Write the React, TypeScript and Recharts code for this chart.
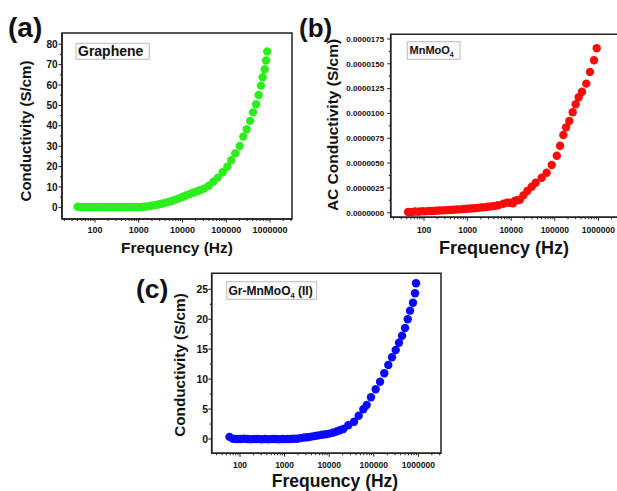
import React from 'react';
import { ScatterChart, Scatter, XAxis, YAxis, ReferenceArea } from 'recharts';

const FONT = '"Liberation Sans", Arial, Helvetica, sans-serif';

// ---------- tick labels ----------
const xMajorTicks = [100, 1000, 10000, 100000, 1000000];
const xMinorTicks = [
  20, 30, 40, 50, 60, 70, 80, 90,
  200, 300, 400, 500, 600, 700, 800, 900,
  2000, 3000, 4000, 5000, 6000, 7000, 8000, 9000,
  20000, 30000, 40000, 50000, 60000, 70000, 80000, 90000,
  200000, 300000, 400000, 500000, 600000, 700000, 800000, 900000,
  2000000, 3000000,
];
const yMajorA = [0, 10, 20, 30, 40, 50, 60, 70, 80];
const yMinorA = [5, 15, 25, 35, 45, 55, 65, 75];
const yMajorB = [0, 2.5, 5, 7.5, 10, 12.5, 15, 17.5]; // x 1e-6 S/cm
const yMinorB = [1.25, 3.75, 6.25, 8.75, 11.25, 13.75, 16.25];
const yMajorC = [0, 5, 10, 15, 20, 25];
const yMinorC = [2.5, 7.5, 12.5, 17.5, 22.5];

// ---------- (a) Graphene ----------
const freqA = [40, 48, 58, 69, 83, 100, 120, 145, 174, 209, 251, 302, 363, 437, 525, 631, 759, 912, 1100, 1320,
  1590, 1910, 2290, 2750, 3310, 3980, 4790, 5750, 6920, 8320, 10000, 12000, 14500, 17400, 20900, 25100,
  31000, 39800, 50600, 64000, 83000, 106000, 130000, 161000, 203000, 245000, 293000, 350000, 410000,
  480000, 550000, 620000, 680000, 757000, 810000, 867000];
const condA = [0.3, 0.2, 0.2, 0.2, 0.2, 0.2, 0.2, 0.2, 0.2, 0.2, 0.2, 0.2, 0.2, 0.2, 0.2, 0.2, 0.2, 0.2, 0.2, 0.3,
  0.5, 0.8, 1.1, 1.4, 1.8, 2.2, 2.7, 3.2, 3.8, 4.4, 5.1, 5.8, 6.5, 7.2, 7.8, 8.4,
  9.2, 10.6, 12.6, 14.6, 17.2, 19.9, 23.1, 26.5, 30.1, 34.7, 38.3, 42.4, 46.6,
  50.6, 55.1, 59.7, 63.8, 67.7, 72.0, 76.4];

// ---------- (b) MnMoO4 (values in 1e-6 S/cm) ----------
const freqB = [43, 52, 62, 75, 90, 108, 130, 156, 187, 225, 270, 324, 389, 467, 560, 672, 806, 968, 1160, 1390,
  1670, 2010, 2410, 2890, 3470, 4160, 5000, 6600, 8000, 9400, 11000, 12200, 14000, 15800, 19000, 23400,
  29500, 36500, 50000, 65000, 85000, 111000, 132000, 157000, 181000, 215000, 257000, 301000, 353000,
  420000, 527000, 641000, 793000, 914000];
const condB = [0.08, 0.05, 0.12, 0.1, 0.15, 0.14, 0.18, 0.18, 0.2, 0.22, 0.24, 0.26, 0.28, 0.3, 0.32, 0.34, 0.37, 0.4, 0.42, 0.45,
  0.48, 0.52, 0.56, 0.6, 0.64, 0.68, 0.75, 0.9, 1.02, 1.0, 0.95, 1.22, 1.25, 1.3, 1.75, 2.19,
  2.62, 3.02, 3.53, 4.03, 4.81, 5.74, 6.75, 7.83, 8.6, 9.24, 10.12, 10.92, 11.63,
  12.19, 13.0, 14.18, 15.36, 16.56];

// ---------- (c) Gr-MnMoO4 (II) ----------
const freqC = [58, 69, 83, 100, 120, 145, 174, 209, 251, 302, 363, 437, 525, 631, 759, 912, 1100, 1320, 1590, 1910,
  2290, 2750, 3310, 3980, 4790, 5750, 6920, 8320, 10000, 12000, 14500, 17400, 20700, 26800, 36000, 45900,
  58200, 69300, 86500, 110000, 138000, 172000, 211000, 256000, 310000, 367000, 429000, 501000, 576000,
  648000, 757000, 840000, 883000];
const condC = [0.35, 0.05, 0.0, 0.0, 0.05, 0.0, -0.05, 0.0, 0.0, -0.05, 0.0, -0.05, 0.0, 0.0, -0.05, 0.0, 0.0, 0.0, 0.05, 0.05,
  0.15, 0.25, 0.3, 0.4, 0.5, 0.6, 0.7, 0.8, 0.9, 1.05, 1.25, 1.45, 1.67, 2.29, 2.89, 3.89,
  4.96, 5.68, 6.96, 8.3, 9.57, 10.97, 12.36, 13.64, 14.86, 16.08, 17.25, 18.54, 19.99,
  21.43, 22.76, 24.33, 26.0];

const toRows = (f: number[], v: number[]) => f.map((x, i) => ({ f: x, v: v[i] }));

const makeXTick = (fontSize: number, labelDy: number) => (props: any) => {
  const { x, y, payload } = props;
  const val = payload.value;
  const major = xMajorTicks.includes(val);
  return (
    <g>
      <line x1={x} x2={x} y1={y} y2={y + (major ? 3.5 : 2)} stroke="#222" strokeWidth={1} />
      {major && (
        <text x={x} y={y + labelDy} textAnchor="middle" fontSize={fontSize} fontWeight="bold" fontFamily={FONT} fill="#111">
          {String(val)}
        </text>
      )}
    </g>
  );
};

const makeYTick = (fontSize: number, gap: number, majors: number[], fmt: (v: number) => string) => (props: any) => {
  const { x, y, payload } = props;
  const val = payload.value;
  const major = majors.includes(val);
  return (
    <g>
      <line x1={x - (major ? 3.5 : 2)} x2={x} y1={y} y2={y} stroke="#222" strokeWidth={1} />
      {major && (
        <text x={x - gap} y={y} dy="0.36em" textAnchor="end" fontSize={fontSize} fontWeight="bold" fontFamily={FONT} fill="#111">
          {fmt(val)}
        </text>
      )}
    </g>
  );
};

const dot = (color: string) => (p: any) => <circle cx={p.cx} cy={p.cy} r={4.2} fill={color} />;

type PanelProps = {
  data: { f: number; v: number }[];
  color: string;
  width: number;
  margin: { top: number; right: number; bottom: number; left: number };
  xDomain: [number, number];
  yDomain: [number, number];
  yMajor: number[];
  yMinor: number[];
  xFont: number;
  xDy: number;
  yFont: number;
  yGap: number;
  yFmt: (v: number) => string;
};

function Panel(p: PanelProps) {
  const xt = [...xMajorTicks, ...xMinorTicks].filter((t) => t >= p.xDomain[0] && t <= p.xDomain[1]).sort((a, b) => a - b);
  const yt = [...p.yMajor, ...p.yMinor].filter((t) => t >= p.yDomain[0] && t <= p.yDomain[1]).sort((a, b) => a - b);
  return (
    <div style={{ position: 'absolute', left: 0, top: 0 }}>
      <ScatterChart width={p.width} height={491} margin={p.margin}>
        <XAxis
          dataKey="f"
          type="number"
          scale="log"
          domain={p.xDomain}
          allowDataOverflow
          ticks={xt}
          interval={0}
          tickSize={0}
          tickMargin={0}
          tickLine={false}
          axisLine={{ stroke: '#222', strokeWidth: 1.5 }}
          height={20}
          tick={makeXTick(p.xFont, p.xDy)}
        />
        <YAxis
          dataKey="v"
          type="number"
          domain={p.yDomain}
          allowDataOverflow
          ticks={yt}
          interval={0}
          tickSize={0}
          tickMargin={0}
          tickLine={false}
          axisLine={{ stroke: '#222', strokeWidth: 1.5 }}
          width={40}
          tick={makeYTick(p.yFont, p.yGap, p.yMajor, p.yFmt)}
        />
        <ReferenceArea
          x1={p.xDomain[0]}
          x2={p.xDomain[1]}
          y1={p.yDomain[0]}
          y2={p.yDomain[1]}
          fill="none"
          fillOpacity={0}
          stroke="#222"
          strokeWidth={1.5}
          ifOverflow="visible"
        />
        <Scatter data={p.data} fill={p.color} shape={dot(p.color)} isAnimationActive={false} />
      </ScatterChart>
    </div>
  );
}

const T = { fontFamily: FONT, fontWeight: 'bold' as const, fill: '#111' };

export default function App() {
  return (
    <div style={{ position: 'absolute', left: 0, top: 0, width: 617, height: 491, overflow: 'hidden', background: '#fff' }}>
      <Panel
        data={toRows(freqA, condA)}
        color="#2cee1c"
        width={617}
        margin={{ top: 33, right: 325, bottom: 252, left: 22 }}
        xDomain={[17.6, 3180000]}
        yDomain={[-5.7, 85.5]}
        yMajor={yMajorA}
        yMinor={yMinorA}
        xFont={9}
        xDy={14.3}
        yFont={10}
        yGap={4.5}
        yFmt={(v) => String(v)}
      />
      <Panel
        data={toRows(freqB, condB)}
        color="#ff0a0a"
        width={640}
        margin={{ top: 34.3, right: 19.8, bottom: 253.7, left: 350.7 }}
        xDomain={[17.2, 3160000]}
        yDomain={[-0.46, 17.97]}
        yMajor={yMajorB}
        yMinor={yMinorB}
        xFont={8.5}
        xDy={16}
        yFont={8}
        yGap={6.5}
        yFmt={(v) => (v / 1e6).toFixed(7)}
      />
      <Panel
        data={toRows(freqC, condC)}
        color="#0a0aff"
        width={617}
        margin={{ top: 273.3, right: 176, bottom: 17.7, left: 171.7 }}
        xDomain={[23.2, 3210000]}
        yDomain={[-2.39, 27.67]}
        yMajor={yMajorC}
        yMinor={yMinorC}
        xFont={8.5}
        xDy={15}
        yFont={10.5}
        yGap={3.5}
        yFmt={(v) => String(v)}
      />
      <svg width={617} height={491} style={{ position: 'absolute', left: 0, top: 0, pointerEvents: 'none' }}>
        {/* panel labels */}
        <text x={8} y={37} fontSize={28} {...T}>(a)</text>
        <text x={299} y={36.6} fontSize={26} {...T}>(b)</text>
        <text x={136} y={297.5} fontSize={26.5} {...T}>(c)</text>

        {/* legend boxes */}
        <rect x={76} y={43.3} width={73.3} height={16} fill="#fafafa" stroke="#bbb" strokeWidth={1} />
        <text x={78} y={56.3} fontSize={14} {...T}>Graphene</text>

        <rect x={407.3} y={41.7} width={52.7} height={17.6} fill="#fafafa" stroke="#bbb" strokeWidth={1} />
        <text x={409.5} y={54} fontSize={11} {...T}>
          MnMoO<tspan fontSize={7} dy={2.5}>4</tspan>
        </text>

        <rect x={226.7} y={281.7} width={90} height={17.6} fill="#fafafa" stroke="#bbb" strokeWidth={1} />
        <text x={228.5} y={295} fontSize={12} {...T}>
          Gr-MnMoO<tspan fontSize={7.5} dy={2.5}>4</tspan><tspan dy={-2.5}> (II)</tspan>
        </text>

        {/* axis titles */}
        <text transform="translate(26,131) rotate(-90)" textAnchor="middle" dy="0.35em" fontSize={15} {...T}>Conductivity (S/cm)</text>
        <text x={177} y={252.8} textAnchor="middle" fontSize={15.5} {...T}>Frequency (Hz)</text>

        <text transform="translate(333,125) rotate(-90)" textAnchor="middle" dy="0.35em" fontSize={15.5} {...T}>AC Conductivity (S/cm)</text>
        <text x={504} y={253.6} textAnchor="middle" fontSize={18} {...T}>Frequency (Hz)</text>

        <text transform="translate(180,365) rotate(-90)" textAnchor="middle" dy="0.35em" fontSize={15.3} {...T}>Conductivity (S/cm)</text>
        <text x={335} y={486.5} textAnchor="middle" fontSize={17.5} {...T}>Frequency (Hz)</text>
      </svg>
    </div>
  );
}
